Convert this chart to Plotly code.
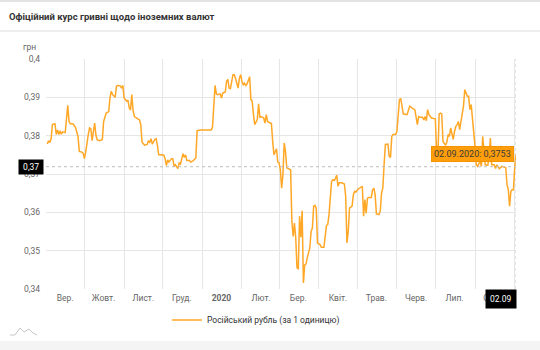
import plotly.graph_objects as go
import pandas as pd

# ---------------- data ----------------
start_date = "2019-09-01"
end_date = "2020-09-02"
series_name = "Російський рубль (за 1 одиницю)"
title_text = "Офіційний курс гривні щодо іноземних валют"
y_unit = "грн"

# day offsets from 2019-09-01 and the official rate (UAH per 1 RUB)
day_offsets = [
    1, 2, 3, 4, 5, 7, 8, 9, 10, 11, 12, 13, 15, 16, 17, 18, 19, 21, 23, 25,
    26, 28, 29, 30, 31, 33, 34, 35, 36, 38, 39, 40, 42, 44, 45, 47, 49, 50, 51, 52,
    54, 55, 56, 58, 59, 60, 61, 63, 64, 65, 66, 67, 68, 69, 71, 73, 74, 75, 77, 79,
    80, 81, 82, 83, 85, 86, 87, 88, 90, 92, 93, 94, 95, 96, 98, 99, 100, 101, 103, 104,
    105, 107, 108, 109, 110, 112, 113, 115, 117, 118, 121, 129, 130, 132, 133, 134, 136, 137, 138, 140,
    141, 142, 143, 144, 146, 147, 148, 150, 151, 152, 153, 154, 155, 156, 157, 159, 160, 161, 162, 163,
    165, 166, 167, 168, 170, 171, 172, 173, 175, 176, 177, 178, 180, 181, 182, 183, 184, 185, 186, 187,
    188, 190, 191, 192, 193, 194, 195, 196, 197, 198, 199, 200, 201, 202, 203, 204, 206, 207, 208, 209,
    210, 211, 212, 214, 215, 217, 219, 220, 221, 223, 224, 225, 226, 227, 228, 229, 231, 233, 234, 235,
    236, 237, 238, 239, 240, 241, 242, 244, 245, 246, 247, 248, 249, 250, 251, 252, 254, 255, 256, 257,
    258, 260, 261, 262, 263, 264, 265, 267, 268, 269, 270, 271, 273, 274, 275, 276, 277, 279, 281, 282,
    284, 285, 286, 288, 289, 290, 291, 292, 294, 295, 296, 297, 298, 299, 301, 304, 305, 306, 307, 308,
    309, 310, 312, 313, 314, 315, 316, 318, 319, 320, 321, 322, 323, 325, 326, 327, 328, 329, 330, 331,
    332, 333, 334, 335, 336, 337, 339, 340, 341, 342, 343, 345, 346, 347, 348, 350, 351, 352, 354, 356,
    359, 360, 361, 362, 363, 364, 365, 366, 367,
]
rate = [
    0.3778, 0.3787, 0.3782, 0.3792, 0.3829, 0.3831, 0.3803, 0.3815, 0.3803, 0.3813,
    0.3804, 0.3810, 0.3808, 0.3842, 0.3879, 0.3837, 0.3831, 0.3831, 0.3822, 0.3798,
    0.3759, 0.3757, 0.3754, 0.3740, 0.3757, 0.3803, 0.3820, 0.3818, 0.3787, 0.3833,
    0.3801, 0.3789, 0.3787, 0.3790, 0.3837, 0.3859, 0.3863, 0.3900, 0.3916, 0.3907,
    0.3900, 0.3929, 0.3931, 0.3930, 0.3924, 0.3931, 0.3898, 0.3890, 0.3893, 0.3872,
    0.3867, 0.3907, 0.3865, 0.3850, 0.3846, 0.3841, 0.3829, 0.3783, 0.3775, 0.3777,
    0.3787, 0.3783, 0.3792, 0.3778, 0.3790, 0.3792, 0.3775, 0.3750, 0.3750, 0.3749,
    0.3740, 0.3722, 0.3737, 0.3731, 0.3740, 0.3740, 0.3720, 0.3724, 0.3714, 0.3729,
    0.3726, 0.3753, 0.3743, 0.3750, 0.3735, 0.3735, 0.3731, 0.3735, 0.3742, 0.3813,
    0.3815, 0.3815, 0.3822, 0.3931, 0.3909, 0.3907, 0.3909, 0.3898, 0.3911, 0.3914,
    0.3942, 0.3947, 0.3924, 0.3923, 0.3959, 0.3959, 0.3949, 0.3924, 0.3950, 0.3959,
    0.3942, 0.3933, 0.3937, 0.3930, 0.3935, 0.3954, 0.3894, 0.3890, 0.3855, 0.3829,
    0.3842, 0.3883, 0.3848, 0.3850, 0.3846, 0.3833, 0.3855, 0.3837, 0.3833, 0.3832,
    0.3785, 0.3750, 0.3766, 0.3731, 0.3729, 0.3711, 0.3663, 0.3698, 0.3781, 0.3759,
    0.3716, 0.3714, 0.3711, 0.3577, 0.3537, 0.3572, 0.3533, 0.3455, 0.3453, 0.3590,
    0.3535, 0.3604, 0.3416, 0.3463, 0.3465, 0.3481, 0.3507, 0.3550, 0.3559, 0.3616,
    0.3618, 0.3611, 0.3520, 0.3516, 0.3509, 0.3509, 0.3566, 0.3568, 0.3594, 0.3681,
    0.3685, 0.3683, 0.3688, 0.3697, 0.3668, 0.3677, 0.3677, 0.3674, 0.3642, 0.3520,
    0.3550, 0.3611, 0.3613, 0.3616, 0.3646, 0.3655, 0.3653, 0.3662, 0.3663, 0.3665,
    0.3668, 0.3590, 0.3633, 0.3598, 0.3637, 0.3639, 0.3639, 0.3659, 0.3663, 0.3646,
    0.3596, 0.3594, 0.3603, 0.3650, 0.3663, 0.3724, 0.3777, 0.3778, 0.3746, 0.3743,
    0.3798, 0.3803, 0.3803, 0.3811, 0.3855, 0.3894, 0.3897, 0.3857, 0.3855, 0.3855,
    0.3877, 0.3874, 0.3872, 0.3868, 0.3844, 0.3829, 0.3850, 0.3848, 0.3848, 0.3841,
    0.3850, 0.3839, 0.3868, 0.3855, 0.3846, 0.3844, 0.3759, 0.3746, 0.3857, 0.3859,
    0.3857, 0.3785, 0.3775, 0.3783, 0.3803, 0.3798, 0.3820, 0.3790, 0.3811, 0.3824,
    0.3829, 0.3837, 0.3816, 0.3850, 0.3877, 0.3920, 0.3911, 0.3903, 0.3903, 0.3868,
    0.3881, 0.3850, 0.3820, 0.3772, 0.3724, 0.3720, 0.3733, 0.3720, 0.3798, 0.3759,
    0.3724, 0.3723, 0.3746, 0.3794, 0.3724, 0.3724, 0.3714, 0.3724, 0.3714, 0.3720,
    0.3717, 0.3672, 0.3659, 0.3616, 0.3655, 0.3659, 0.3659, 0.3716, 0.3753,
]

month_labels = ["Вер.", "Жовт.", "Лист.", "Груд.", "<b>2020</b>", "Лют.", "Бер.",
                "Квіт.", "Трав.", "Черв.", "Лип.", "Серп."]
y_ticks = [0.34, 0.35, 0.36, 0.37, 0.38, 0.39, 0.40]
y_ticktext = ["0,34", "0,35", "0,36", "0,37", "0,38", "0,39", "0,4"]
crosshair_value = 0.3719
crosshair_label = "0,37"

# ---------------- derived ----------------
dates = pd.Timestamp(start_date) + pd.to_timedelta(day_offsets, unit="D")
month_starts = pd.date_range(start_date, end_date, freq="MS")
month_mids = month_starts + pd.Timedelta(days=15)

W, H = 540, 350
ML, MR, MT, MB = 46, 24, 59, 61
PW, PH = W - ML - MR, H - MT - MB


def px_x(px):
    return (px - ML) / PW


def px_y(py):
    return (H - MB - py) / PH


LINE_COLOR = "#FFA726"
GRID = "#e6e6e6"
TICK_FONT = dict(size=8.5, color="#666666")

fig = go.Figure()
fig.add_trace(go.Scatter(
    x=dates, y=rate, mode="lines", name=series_name,
    line=dict(color=LINE_COLOR, width=1.5),
    hoverinfo="skip",
))

last_date = dates[-1]
last_val = rate[-1]
tooltip_text = f"{last_date:%d.%m.%Y}: " + f"{last_val:.4f}".replace(".", ",")

# logo path (small mountains at bottom-left)
logo_pts = [(10, 335), (15, 335), (20, 328), (24, 332), (29, 329), (33, 333), (37, 335)]
logo_path = "M " + " L ".join(f"{px_x(a):.4f} {px_y(b):.4f}" for a, b in logo_pts)

shapes = [
    # top border & header separator
    dict(type="line", xref="paper", yref="paper", x0=px_x(0), x1=px_x(W),
         y0=px_y(1), y1=px_y(1), line=dict(color="#e3e3e3", width=2)),
    dict(type="line", xref="paper", yref="paper", x0=px_x(0), x1=px_x(W),
         y0=px_y(31), y1=px_y(31), line=dict(color="#e8e8e8", width=1.5)),
    # bottom grey band
    dict(type="rect", xref="paper", yref="paper", x0=px_x(0), x1=px_x(W),
         y0=px_y(H + 2), y1=px_y(341), fillcolor="#f4f4f4", line=dict(width=0)),
    # crosshairs
    dict(type="line", xref="paper", yref="y", x0=0, x1=1,
         y0=crosshair_value, y1=crosshair_value,
         line=dict(color="#bdbdbd", width=1, dash="dot")),
    dict(type="line", xref="x", yref="paper", x0=last_date, x1=last_date,
         y0=0, y1=1, line=dict(color="#cfcfcf", width=1, dash="dot")),
    # logo
    dict(type="path", xref="paper", yref="paper", path=logo_path,
         line=dict(color="#c8c8c8", width=1)),
]

annotations = [
    dict(text=y_unit, xref="paper", yref="paper", x=px_x(29), y=px_y(47),
         xanchor="center", yanchor="middle",
         showarrow=False, font=dict(size=8.5, color="#666666")),
    dict(text="\u00a0" + crosshair_label + "\u00a0", xref="paper", yref="y",
         x=0, y=crosshair_value, xanchor="right", yanchor="middle", xshift=-2,
         showarrow=False, bgcolor="#000000",
         borderpad=2, font=dict(size=8.5, color="#ffffff")),
    dict(text=f"{last_date:%d.%m}", xref="x", yref="paper", x=last_date, y=0,
         xanchor="right", yanchor="top", xshift=1, showarrow=False,
         bgcolor="#000000", borderpad=4, font=dict(size=8.5, color="#ffffff")),
    dict(text=tooltip_text, xref="x", yref="y", x=last_date, y=last_val,
         xanchor="right", yanchor="middle", xshift=-2, showarrow=False,
         bgcolor="#FF9D0A", bordercolor="#F59300", borderwidth=1, borderpad=2,
         font=dict(size=9, color="#3a3a3a")),
]

fig.update_layout(
    width=W, height=H,
    margin=dict(l=ML, r=MR, t=MT, b=MB),
    paper_bgcolor="#ffffff", plot_bgcolor="#ffffff",
    font=dict(family="Roboto, Arial, sans-serif", color="#666666"),
    separators=",.",
    title=dict(text=f"<b>{title_text}</b>", x=9 / W, xref="container",
               xanchor="left", y=1 - 17 / H, yref="container", yanchor="middle",
               font=dict(size=9.5, color="#333333")),
    showlegend=True,
    legend=dict(orientation="h", x=px_x(167), xanchor="left", y=px_y(320),
                yanchor="middle", font=dict(size=8.5, color="#333333"),
                bgcolor="rgba(0,0,0,0)"),
    xaxis=dict(
        type="date", range=[start_date, end_date],
        tickmode="array", tickvals=month_mids, ticktext=month_labels,
        showgrid=False, ticks="", showline=False, zeroline=False,
        tickfont=TICK_FONT, ticklabelstandoff=2,
        minor=dict(tickmode="array", tickvals=month_starts, showgrid=True,
                   gridcolor=GRID, gridwidth=1, ticks=""),
    ),
    yaxis=dict(
        range=[0.34, 0.40], tickmode="array", tickvals=y_ticks, ticktext=y_ticktext,
        showgrid=True, gridcolor=GRID, gridwidth=1, ticks="", showline=False,
        zeroline=False, tickfont=TICK_FONT, ticklabelstandoff=5,
    ),
    shapes=shapes,
    annotations=annotations,
)

fig.write_html("out.html")
